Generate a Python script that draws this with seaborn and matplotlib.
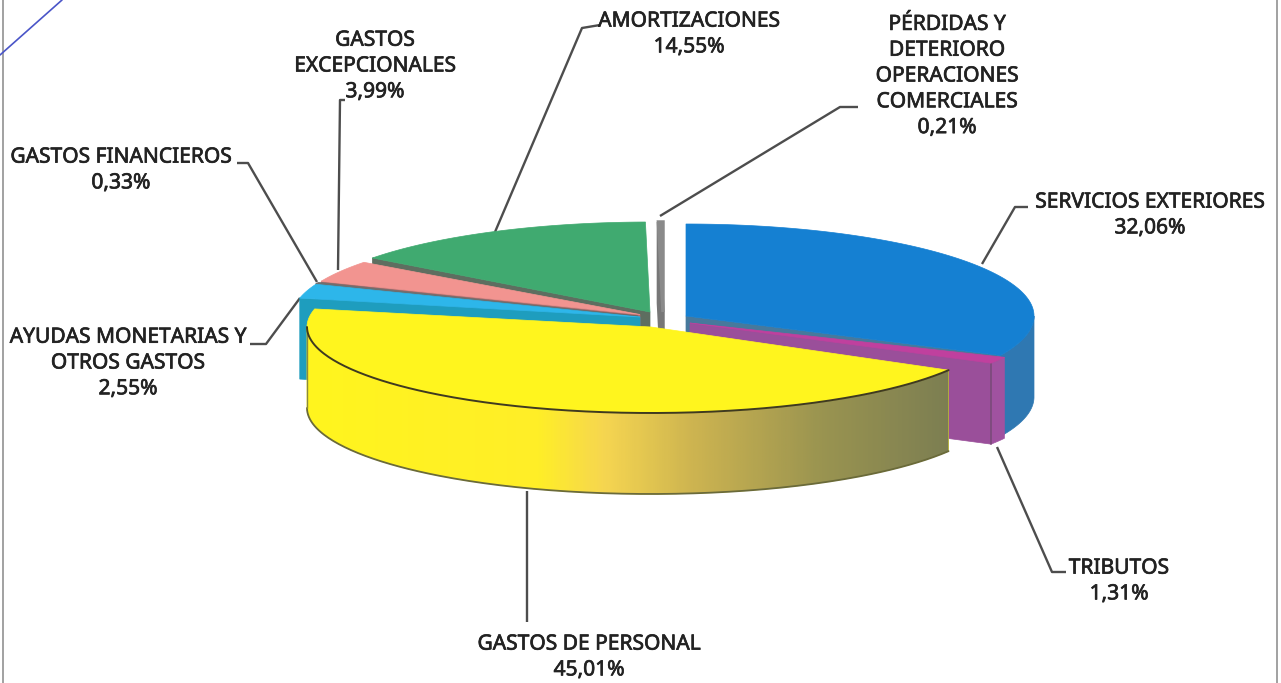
import numpy as np
import matplotlib
matplotlib.use("Agg")
import matplotlib.pyplot as plt
import matplotlib.patheffects as pe
from matplotlib.patches import Polygon
from matplotlib.colors import LinearSegmentedColormap
import seaborn as sns

# ---- data ----
categories = ["SERVICIOS EXTERIORES", "TRIBUTOS", "GASTOS DE PERSONAL",
              "AYUDAS MONETARIAS Y\nOTROS GASTOS", "GASTOS FINANCIEROS",
              "GASTOS\nEXCEPCIONALES", "AMORTIZACIONES",
              "PÉRDIDAS Y\nDETERIORO\nOPERACIONES\nCOMERCIALES"]
values = [32.06, 1.31, 45.01, 2.55, 0.33, 3.99, 14.55, 0.21]

# ---- style / layout ----
top_colors = ["#1580D2", "#C0409E", "#FFF51E", "#2DB6EA", "#6E6E6E", "#F29490", "#40AA70", "#8A8A8A"]
cut_colors = ["#47799C", "#9A4F9A", "#C9B050", "#1E9DBE", "#5A5A5A", "#B07070", "#5E6E60", "#777777"]
side_colors = ["#2F78B2", "#A052A0", "#FFF51E", "#1E9DBE", "#5A5A5A", "#B07070", "#2E8A58", "#777777"]
# centre x, centre y, semi-axis a, semi-axis b of each exploded slice
geom = [(686, 316, 348, 92), (690, 323, 348, 80), (651, 327, 344, 86), (640, 317, 348, 90),
        (638, 316, 346, 88), (640, 314.5, 345, 87), (650, 312, 347, 90), (663, 312, 347, 90)]
depth = 81
label_xy = [(1150, 215), (1119, 581), (589, 657), (128, 363), (121, 170), (375, 66), (689, 34), (947, 76)]
leaders = [[(1028, 207), (1015, 207), (982, 264)],
           [(1066, 572), (1052, 572), (997, 447)],
           [(527, 491), (527, 622)],
           [(250, 344), (266, 344), (300, 298)],
           [(237, 163), (248, 163), (317, 282)],
           [(345, 100), (340, 100), (338, 270)],
           [(600, 25), (582, 28), (495, 232)],
           [(858, 107), (840, 107), (660, 216)]]

sns.set_theme(style="white")
plt.rcParams["font.family"] = ["Noto Sans", "DejaVu Sans"]
palette = sns.color_palette(top_colors)

fig = plt.figure(figsize=(12.81, 6.83), dpi=100, facecolor="white")
ax = fig.add_axes([0, 0, 1, 1])
ax.set_xlim(0, 1281)
ax.set_ylim(683, 0)
ax.axis("off")

# frame of the scanned page
ax.plot([3, 3], [0, 683], color="#9a9a9a", lw=1.3, zorder=1)
ax.plot([1277, 1277], [0, 683], color="#9a9a9a", lw=1.3, zorder=1)
ax.plot([0, 62], [55, 0], color="#4a55c8", lw=1.2, zorder=1)

shares = np.array(values) / np.sum(values) * 360
ends = np.cumsum(shares)
starts = ends - shares


def rim(g, a0, a1, n=200):
    t = np.radians(np.linspace(a0, a1, n))
    return np.column_stack([g[0] + g[2] * np.sin(t), g[1] - g[3] * np.cos(t)])


def extrude(pts):
    return np.vstack([pts, (pts + [0, depth])[::-1]])


def draw_slice(i, z):
    g = geom[i]
    a0, a1 = starts[i], ends[i]
    tip = np.array([[g[0], g[1]]], float)
    stroke = 2.5 if i == 7 else 0.5
    if 180 < a0 < 360:
        ax.add_patch(Polygon(extrude(np.vstack([tip, rim(g, a0, a0, 1)])), color=cut_colors[i], lw=stroke, zorder=z))
    if 0 < a1 < 180:
        ax.add_patch(Polygon(extrude(np.vstack([tip, rim(g, a1, a1, 1)])), color=cut_colors[i], lw=stroke, zorder=z))
    lo, hi = max(a0, 90), min(a1, 270)
    if hi > lo:
        side = Polygon(extrude(rim(g, lo, hi)), color=side_colors[i], lw=0.5, zorder=z + 0.1)
        ax.add_patch(side)
        if i == 2:
            ramp = LinearSegmentedColormap.from_list(
                "side", [(0, "#FFF51E"), (0.36, "#FFEE28"), (0.46, "#F6D650"), (0.6, "#CDB450"),
                         (0.8, "#9A9450"), (1, "#7C7E52")])
            im = ax.imshow(np.linspace(0, 1, 300).reshape(1, -1), cmap=ramp, aspect="auto",
                           extent=(g[0] - g[2], g[0] + g[2] * np.sin(np.radians(lo)) + 3, 520, 300), zorder=z + 0.15)
            im.set_clip_path(side)
            ax.set_xlim(0, 1281)
            ax.set_ylim(683, 0)
            low = rim(g, lo, hi) + [0, depth]
            ax.plot(low[:, 0], low[:, 1], color="#6a6a3a", lw=1.3, zorder=z + 0.2)
            ax.plot([g[0] - g[2]] * 2, [g[1], g[1] + depth], color="#8a8a40", lw=1.0, zorder=z + 0.2)
        if i == 1:
            p = rim(g, a1, a1, 1)[0]
            ax.plot([p[0], p[0]], [p[1], p[1] + depth], color="#7a4a7a", lw=1.2, zorder=z + 0.2)
    ax.add_patch(Polygon(np.vstack([tip, rim(g, a0, a1)]), facecolor=palette[i], edgecolor=palette[i],
                         lw=stroke, zorder=z + 0.3))
    if i == 2:
        front = rim(g, a0, 270)
        ax.plot(front[:, 0], front[:, 1], color="#3f3a20", lw=1.4, zorder=z + 0.4)


# painter's order, back to front
for z, i in enumerate([6, 7, 0, 5, 4, 3, 1, 2]):
    draw_slice(i, 3 + z)

for pts in leaders:
    xs, ys = zip(*pts)
    ax.plot(xs, ys, color="#4d4d4d", lw=1.7, zorder=2, solid_capstyle="butt")

for name, val, (x, y) in zip(categories, values, label_xy):
    ax.text(x, y, f"{name}\n{val:.2f}%".replace(".", ","), ha="center", va="center",
            fontsize=15.1, color="#222222", linespacing=1.3, zorder=20,
            path_effects=[pe.withStroke(linewidth=0.5, foreground="#222222")])

fig.savefig("out.png", dpi=100, facecolor="white")
